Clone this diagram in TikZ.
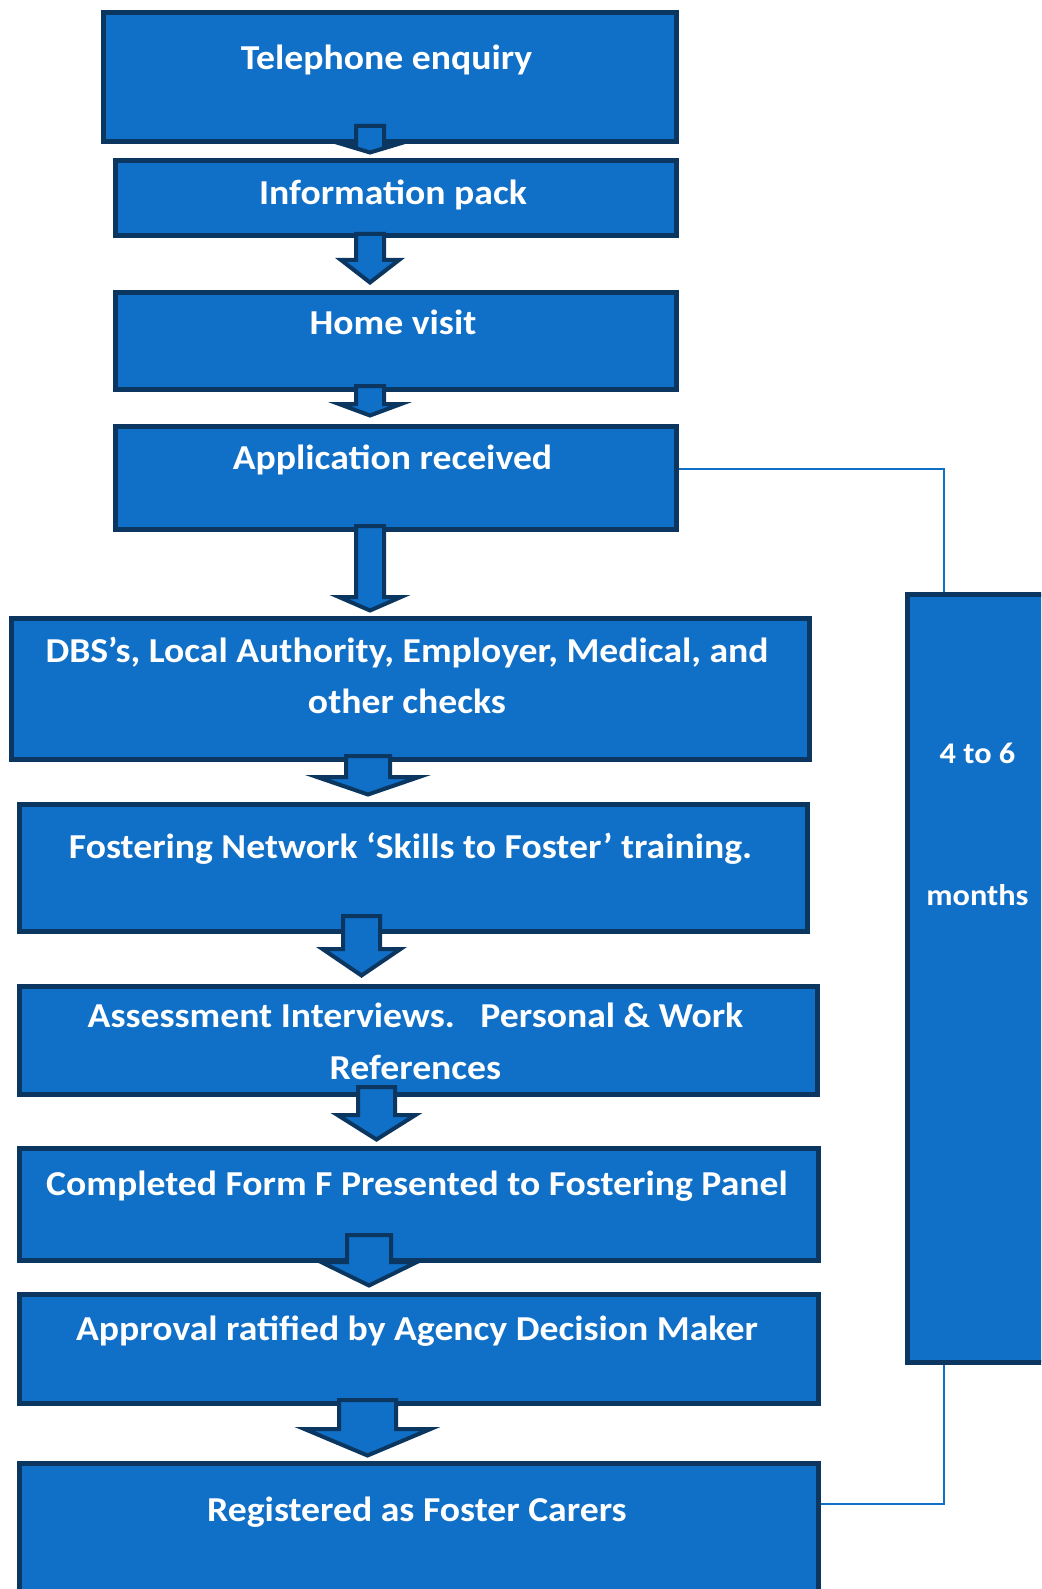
\documentclass[tikz,border=0pt]{standalone}
\usepackage{fontspec}
\usepackage{graphicx}
\setmainfont{Carlito}
\definecolor{boxfill}{RGB}{16,111,198}
\definecolor{boxedge}{RGB}{11,54,96}
\newcommand\widetext[1]{\scalebox{1.077}[1]{#1}}
\tikzset{
  box/.style={draw=boxedge, fill=boxfill, line width=5pt, inner sep=0pt, anchor=north west},
  lbl/.style={text=white, font=\fontsize{35}{40}\selectfont\bfseries, inner sep=0pt, anchor=base},
  sidelbl/.style={lbl, font=\fontsize{30}{36}\selectfont\bfseries},
  barrow/.style={draw=boxedge, fill=boxfill, line width=4pt, miter limit=10},
  link/.style={draw=boxfill, line width=2pt}
}
% box from outer corners: name, x1, y1, x2, y2
\newcommand\stagebox[5]{%
  \node[box, minimum width={#4-#2-5}, minimum height={#5-#3-5}] (#1) at ({#2+2.5},{#3+2.5}) {};}
% downward block arrow: centre x, shaft half width, top, wing y, head half width, tip
\newcommand\blockarrow[6]{%
  \draw[barrow] ({#1-#2+2},{#3+2}) -- ({#1+#2-2},{#3+2}) -- ({#1+#2-2},{#4+2})
    -- ({#1+#5-3},{#4+2}) -- ({#1},{#6-2.5}) -- ({#1-#5+3},{#4+2})
    -- ({#1-#2+2},{#4+2}) -- cycle;}
\begin{document}
\begin{tikzpicture}[x=1pt,y=-1pt]
\useasboundingbox (0,0) rectangle (1041,1589);
\clip (0,0) rectangle (1041,1589);

% stages
\stagebox{b1}{98}{8}{676}{142}
\stagebox{b2}{110}{156}{676}{236}
\stagebox{b3}{110}{287}{676}{389}
\stagebox{b4}{110}{421}{676}{529}
\stagebox{b5}{6}{613}{809}{759}
\stagebox{b6}{14}{799}{807}{931}
\stagebox{b7}{14}{981}{817}{1094}
\stagebox{b8}{14}{1143}{818}{1260}
\stagebox{b9}{14}{1289}{818}{1403}
\stagebox{b10}{14}{1458}{818}{1625}
\stagebox{side}{902}{589}{1056}{1362}

% timeline brackets
\coordinate (j1) at (944,469);
\coordinate (j2) at (944,1504);
\draw[link] (b4.east |- j1) -| (j1 |- side.north);
\draw[link] (j2 |- side.south) |- (b10.east |- j2);

% arrows between stages
\blockarrow{370}{16}{124}{143}{28}{155}
\blockarrow{370}{16}{232}{258}{32}{285}
\blockarrow{370}{16}{384}{402}{34}{418}
\blockarrow{370}{16}{524}{595}{34}{613}
\blockarrow{368}{24}{754}{775}{54}{797}
\blockarrow{361.5}{20.5}{914}{947}{42}{978}
\blockarrow{376.5}{20.5}{1085}{1113}{42}{1142}
\blockarrow{369}{24}{1233}{1260}{51}{1288}
\blockarrow{367.5}{30.5}{1398}{1427}{66}{1458}

% labels
\node[lbl] (t1) at (386.5,70) {\widetext{Telephone enquiry}};
\node[lbl] (t2) at (393,205) {\widetext{Information pack}};
\node[lbl] (t3) at (393,334) {\widetext{Home visit}};
\node[lbl] (t4) at (392.5,469) {\widetext{Application received}};
\node[lbl] (t5a) at (407,662) {\widetext{DBS’s, Local Authority, Employer, Medical, and}};
\node[lbl] (t5b) at (407,713) {\widetext{other checks}};
\node[lbl] (t6) at (410.5,858) {\widetext{Fostering Network ‘Skills to Foster’ training.}};
\node[lbl] (t7a) at (415.5,1027) {\widetext{Assessment Interviews.\ \ \ Personal \& Work}};
\node[lbl] (t7b) at (415.5,1079) {\widetext{References}};
\node[lbl] (t8) at (417,1195) {\widetext{Completed Form F Presented to Fostering Panel}};
\node[lbl] (t9) at (417,1340) {\widetext{Approval ratified by Agency Decision Maker}};
\node[lbl] (t10) at (417,1521) {\widetext{Registered as Foster Carers}};
\node[sidelbl] (s1) at (977.5,763) {\widetext{4 to 6}};
\node[sidelbl] (s2) at (977.5,905) {\widetext{months}};
\end{tikzpicture}
\end{document}
